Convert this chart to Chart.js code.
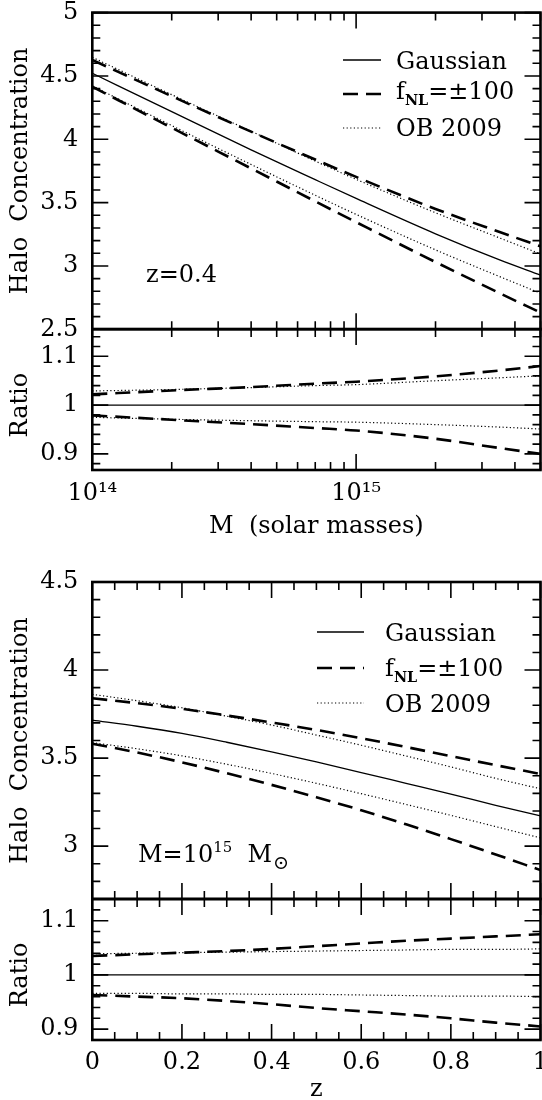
<!DOCTYPE html>
<html>
<head>
<meta charset="utf-8">
<title>Halo concentration vs mass and redshift</title>
<script src="https://cdn.jsdelivr.net/npm/chart.js@4.4.1/dist/chart.umd.min.js"></script>
<style>
  body { margin: 0; background: #fff; }
  #page { position: relative; width: 542px; height: 1100px; overflow: hidden; background: #fff; }
  canvas { position: absolute; left: 0; }
</style>
</head>
<body>
<div id="page">
  <canvas id="massMain" width="542" height="345" style="top:0px"></canvas>
  <canvas id="massRatio" width="542" height="230" style="top:320px"></canvas>
  <canvas id="zMain" width="542" height="345" style="top:565px"></canvas>
  <canvas id="zRatio" width="542" height="215" style="top:885px"></canvas>
</div>
<script>
// ---- data ----
// top panel: z = 0.4, against halo mass (solar masses)
const masses = [1e14, 2e14, 4e14, 7e14, 1e15, 2e15, 3.5e15, 5e15];
const gaussMass = [4.521, 4.218, 3.916, 3.681, 3.533, 3.254, 3.048, 2.928];
const fnlHiMass = [4.626, 4.340, 4.060, 3.840, 3.703, 3.450, 3.268, 3.155];
const fnlLoMass = [4.415, 4.091, 3.770, 3.510, 3.346, 3.031, 2.785, 2.632];
const obHiMass = [4.647, 4.352, 4.063, 3.828, 3.684, 3.420, 3.221, 3.095];
const obLoMass = [4.421, 4.108, 3.801, 3.558, 3.407, 3.127, 2.916, 2.785];

const gaussMassRatio = [1, 1, 1, 1, 1, 1, 1, 1];
const fnlHiMassRatio = [1.022, 1.030, 1.037, 1.044, 1.048, 1.059, 1.071, 1.080];
const fnlLoMassRatio = [0.979, 0.970, 0.961, 0.953, 0.948, 0.931, 0.912, 0.900];
const obHiMassRatio = [1.029, 1.032, 1.036, 1.040, 1.042, 1.050, 1.056, 1.060];
const obLoMassRatio = [0.975, 0.971, 0.968, 0.966, 0.965, 0.960, 0.955, 0.951];

// bottom panel: M = 1e15 Msun, against redshift
const redshifts = [0, 0.1, 0.2, 0.3, 0.4, 0.5, 0.6, 0.7, 0.8, 0.9, 1.0];
const gaussZ = [3.716, 3.681, 3.640, 3.590, 3.536, 3.478, 3.418, 3.357, 3.296, 3.232, 3.172];
const fnlHiZ = [3.840, 3.812, 3.780, 3.742, 3.702, 3.660, 3.613, 3.563, 3.511, 3.460, 3.410];
const fnlLoZ = [3.582, 3.532, 3.476, 3.414, 3.348, 3.278, 3.204, 3.124, 3.040, 2.953, 2.864];
const obHiZ = [3.862, 3.826, 3.786, 3.738, 3.688, 3.631, 3.573, 3.512, 3.450, 3.385, 3.326];
const obLoZ = [3.588, 3.553, 3.513, 3.465, 3.413, 3.357, 3.298, 3.237, 3.175, 3.111, 3.047];

const gaussZRatio = [1, 1, 1, 1, 1, 1, 1, 1, 1, 1, 1];
const fnlHiZRatio = [1.035, 1.038, 1.041, 1.044, 1.048, 1.053, 1.058, 1.063, 1.067, 1.071, 1.075];
const fnlLoZRatio = [0.963, 0.960, 0.957, 0.952, 0.946, 0.939, 0.933, 0.927, 0.920, 0.912, 0.905];
const obHiZRatio = [1.039, 1.040, 1.041, 1.042, 1.043, 1.044, 1.045, 1.046, 1.047, 1.047, 1.048];
const obLoZRatio = [0.966, 0.966, 0.965, 0.965, 0.964, 0.964, 0.963, 0.962, 0.961, 0.961, 0.960];

// ticks and labels
const massTicks = [1e14, 2e14, 3e14, 4e14, 5e14, 6e14, 7e14, 8e14, 9e14, 1e15, 2e15, 3e15, 4e15, 5e15];
const massMajor = [1e14, 1e15];
const massMajorLabels = ['10\u00b9\u2074', '10\u00b9\u2075'];
const zMajor = [0, 0.2, 0.4, 0.6, 0.8, 1];
const zMajorLabels = ['0', '0.2', '0.4', '0.6', '0.8', '1'];
const concMassLabels = [2.5, 3, 3.5, 4, 4.5, 5];
const concZLabels = [3, 3.5, 4, 4.5];
const ratioLabels = [0.9, 1, 1.1];

const legendLabels = ['Gaussian', 'f_{NL}=\u00b1100', 'OB 2009'];

// ---- styles ----
const FONT = '"DejaVu Serif", "Liberation Serif", serif';
Chart.defaults.font.family = FONT;
Chart.defaults.font.size = 24;
Chart.defaults.color = '#000';

const solid = { borderWidth: 1.3 };
const dashed = { borderWidth: 2.6, borderDash: [15, 8] };
const dotted = { borderWidth: 1.2, borderDash: [1.2, 2.4] };
const legendStyles = [solid, dashed, dotted];

function series(xs, ys, style) {
  return Object.assign({
    data: xs.map((x, i) => ({ x: x, y: ys[i] })),
    borderColor: '#000',
    pointRadius: 0,
    fill: false,
    cubicInterpolationMode: 'monotone'
  }, style);
}

function near(a, b) {
  return Math.abs(a - b) <= 1e-6 * Math.max(1, Math.abs(b));
}

function labelFor(v, majors, texts) {
  const i = majors.findIndex(m => near(v, m));
  if (i < 0) return '';
  return texts ? texts[i] : String(majors[i]);
}

// text with _{sub} and ^{sup} parts, y is the baseline
// letters in a subscript are set bold, a lone symbol is set larger
function drawRich(ctx, str, x, y, size) {
  const parts = str.split(/(_\{[^}]*\}|\^\{[^}]*\})/).filter(Boolean);
  ctx.textAlign = 'left';
  ctx.textBaseline = 'alphabetic';
  for (const p of parts) {
    let t = p, fs = size, dy = 0, weight = '';
    if (p[0] === '_') {
      t = p.slice(2, -1);
      if (/^[A-Za-z]+$/.test(t)) { fs = size * 0.6; dy = size * 0.27; weight = 'bold '; }
      else { fs = size * 0.8; dy = size * 0.3; x += 1; }
    } else if (p[0] === '^') { t = p.slice(2, -1); fs = size * 0.62; dy = -size * 0.42; }
    ctx.font = weight + fs + 'px ' + FONT;
    ctx.fillText(t, x, y + dy);
    x += ctx.measureText(t).width;
  }
  return x;
}

// frame, inward ticks on all four sides, titles, legend and notes
const panelDecor = {
  id: 'panelDecor',
  afterDraw(chart, args, o) {
    const ctx = chart.ctx, a = chart.chartArea;
    const xs = chart.scales.x, ys = chart.scales.y;
    const top = chart.canvas.offsetTop;
    ctx.save();
    ctx.strokeStyle = '#000';
    ctx.lineWidth = 1.6;
    ctx.setLineDash([]);
    ctx.beginPath();
    xs.ticks.forEach(t => {
      const px = xs.getPixelForValue(t.value);
      const len = o.xMajor.some(m => near(t.value, m)) ? 16 : 8;
      ctx.moveTo(px, a.top); ctx.lineTo(px, a.top + len);
      ctx.moveTo(px, a.bottom); ctx.lineTo(px, a.bottom - len);
    });
    ys.ticks.forEach(t => {
      const py = ys.getPixelForValue(t.value);
      const len = o.yMajor.some(m => near(t.value, m)) ? 16 : 8;
      ctx.moveTo(a.left, py); ctx.lineTo(a.left + len, py);
      ctx.moveTo(a.right, py); ctx.lineTo(a.right - len, py);
    });
    ctx.stroke();
    ctx.lineWidth = 2.6;
    ctx.strokeRect(a.left, a.top, a.right - a.left, a.bottom - a.top);

    ctx.fillStyle = '#000';
    ctx.font = '24px ' + FONT;
    ctx.textAlign = 'center';
    ctx.textBaseline = 'middle';
    const ty = o.yTitleValue != null ? ys.getPixelForValue(o.yTitleValue) : (a.top + a.bottom) / 2;
    ctx.save();
    ctx.translate(o.yTitleX, ty);
    ctx.rotate(-Math.PI / 2);
    ctx.fillText(o.yTitle, 0, 0);
    ctx.restore();
    if (o.xTitle) ctx.fillText(o.xTitle, (a.left + a.right) / 2, o.xTitleY - top);

    if (o.legend) {
      const L = o.legend;
      legendLabels.forEach((lab, i) => {
        const st = legendStyles[i];
        ctx.beginPath();
        ctx.lineWidth = st.borderWidth;
        ctx.setLineDash(st.borderDash || []);
        ctx.moveTo(L.x0, L.lineY[i] - top);
        ctx.lineTo(L.x1, L.lineY[i] - top);
        ctx.stroke();
        drawRich(ctx, lab, L.tx, L.textY[i] - top, 24);
      });
      ctx.setLineDash([]);
    }
    if (o.note) drawRich(ctx, o.note.text, o.note.x, o.note.y - top, 24);
    ctx.restore();
  }
};

function valueAxis(min, max, step, majors) {
  return {
    min: min, max: max,
    grid: { display: false, drawTicks: false },
    border: { display: false },
    ticks: {
      stepSize: step, includeBounds: false, autoSkip: false, padding: 14,
      callback: v => labelFor(v, majors)
    },
    afterFit: s => { s.width = 92.3; s.paddingTop = 0; s.paddingBottom = 0; }
  };
}

function massAxis(showLabels, height) {
  return {
    type: 'logarithmic', min: 1e14, max: 5e15,
    grid: { display: false, drawTicks: false },
    border: { display: false },
    afterBuildTicks: s => { s.ticks = massTicks.map(v => ({ value: v })); },
    ticks: {
      display: showLabels, autoSkip: false, maxRotation: 0, minRotation: 0, padding: 9,
      callback: v => labelFor(v, massMajor, massMajorLabels)
    },
    afterFit: s => { s.height = height; s.paddingLeft = 0; s.paddingRight = 0; }
  };
}

function zAxis(showLabels, height) {
  return {
    type: 'linear', min: 0, max: 1,
    grid: { display: false, drawTicks: false },
    border: { display: false },
    ticks: {
      stepSize: 0.05, display: showLabels, autoSkip: false, maxRotation: 0, minRotation: 0, padding: 8,
      callback: v => labelFor(v, zMajor, zMajorLabels)
    },
    afterFit: s => { s.height = height; s.paddingLeft = 0; s.paddingRight = 0; }
  };
}

function panel(id, datasets, x, y, padding, decor) {
  return new Chart(document.getElementById(id), {
    type: 'line',
    data: { datasets: datasets },
    options: {
      responsive: false,
      animation: false,
      devicePixelRatio: 1,
      layout: { autoPadding: false, padding: padding },
      plugins: { legend: { display: false }, tooltip: { enabled: false }, panelDecor: decor },
      scales: { x: x, y: y }
    },
    plugins: [panelDecor]
  });
}

panel('massMain', [
  series(masses, gaussMass, solid),
  series(masses, fnlHiMass, dashed),
  series(masses, fnlLoMass, dashed),
  series(masses, obHiMass, dotted),
  series(masses, obLoMass, dotted)
], massAxis(false, 0), valueAxis(2.5, 5, 0.1, concMassLabels),
  { top: 12.6, bottom: 15.7, left: 0, right: 1.5 },
  { xMajor: massMajor, yMajor: concMassLabels, yTitle: 'Halo  Concentration', yTitleX: 21,
    legend: { x0: 343, x1: 381, tx: 396, lineY: [60, 94, 128], textY: [69, 99, 136] },
    note: { text: 'z=0.4', x: 146, y: 282 } });

panel('massRatio', [
  series(masses, gaussMassRatio, solid),
  series(masses, fnlHiMassRatio, dashed),
  series(masses, fnlLoMassRatio, dashed),
  series(masses, obHiMassRatio, dotted),
  series(masses, obLoMassRatio, dotted)
], massAxis(true, 80), valueAxis(0.867, 1.156, 0.02, ratioLabels),
  { top: 9, bottom: 0, left: 0, right: 1.5 },
  { xMajor: massMajor, yMajor: ratioLabels, yTitle: 'Ratio', yTitleX: 21, yTitleValue: 1,
    xTitle: 'M  (solar masses)', xTitleY: 527 });

panel('zMain', [
  series(redshifts, gaussZ, solid),
  series(redshifts, fnlHiZ, dashed),
  series(redshifts, fnlLoZ, dashed),
  series(redshifts, obHiZ, dotted),
  series(redshifts, obLoZ, dotted)
], zAxis(false, 0), valueAxis(2.7, 4.5, 0.1, concZLabels),
  { top: 17, bottom: 11, left: 0, right: 1.5 },
  { xMajor: zMajor, yMajor: concZLabels, yTitle: 'Halo  Concentration', yTitleX: 21,
    legend: { x0: 317, x1: 364, tx: 385, lineY: [632, 668, 703], textY: [641, 676, 712] },
    note: { text: 'M=10^{15}  M_{\u2299}', x: 138, y: 862 } });

panel('zRatio', [
  series(redshifts, gaussZRatio, solid),
  series(redshifts, fnlHiZRatio, dashed),
  series(redshifts, fnlLoZRatio, dashed),
  series(redshifts, obHiZRatio, dotted),
  series(redshifts, obLoZRatio, dotted)
], zAxis(true, 60), valueAxis(0.88, 1.14, 0.02, ratioLabels),
  { top: 14, bottom: 0, left: 0, right: 1.5 },
  { xMajor: zMajor, yMajor: ratioLabels, yTitle: 'Ratio', yTitleX: 21, yTitleValue: 1,
    xTitle: 'z', xTitleY: 1090 });
</script>
</body>
</html>
